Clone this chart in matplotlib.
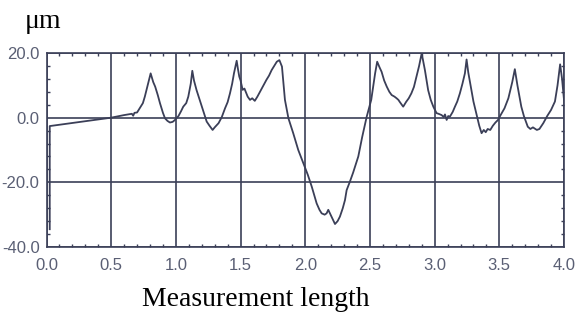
import numpy as np
import matplotlib
matplotlib.use("Agg")
import matplotlib.pyplot as plt
from matplotlib.ticker import MultipleLocator, FormatStrFormatter

pos = [0.025, 0.025, 0.5, 0.60, 0.66, 0.67, 0.68, 0.70, 0.72, 0.745,
       0.76, 0.785, 0.805, 0.825, 0.84, 0.86, 0.877, 0.90, 0.916, 0.935,
       0.954, 0.975, 0.993, 1.02, 1.04, 1.057, 1.08, 1.096, 1.115, 1.127,
       1.14, 1.16, 1.18, 1.20, 1.22, 1.238, 1.26, 1.284, 1.30, 1.33,
       1.355, 1.38, 1.40, 1.418, 1.435, 1.449, 1.47, 1.48, 1.49, 1.50,
       1.516, 1.53, 1.54, 1.555, 1.573, 1.59, 1.61, 1.63, 1.65, 1.67,
       1.70, 1.72, 1.74, 1.76, 1.78, 1.80, 1.82, 1.843, 1.87, 1.907,
       1.946, 1.985, 2.02, 2.05, 2.07, 2.088, 2.11, 2.127, 2.15, 2.165,
       2.178, 2.19, 2.204, 2.23, 2.25, 2.268, 2.29, 2.307, 2.32, 2.345,
       2.37, 2.41, 2.44, 2.475, 2.51, 2.54, 2.556, 2.575, 2.59, 2.61,
       2.63, 2.65, 2.668, 2.69, 2.706, 2.72, 2.73, 2.757, 2.78, 2.80,
       2.82, 2.84, 2.86, 2.88, 2.90, 2.925, 2.95, 2.97, 2.99, 3.015,
       3.03, 3.054, 3.07, 3.08, 3.093, 3.105, 3.118, 3.14, 3.157, 3.175,
       3.195, 3.215, 3.234, 3.247, 3.26, 3.28, 3.30, 3.325, 3.345, 3.363,
       3.38, 3.395, 3.41, 3.43, 3.45, 3.47, 3.49, 3.51, 3.54, 3.57,
       3.60, 3.62, 3.64, 3.67, 3.69, 3.72, 3.74, 3.76, 3.79, 3.81,
       3.84, 3.87, 3.90, 3.93, 3.95, 3.97, 3.985, 4.0]
height = [-34.5, -2.6, 0.0, 0.8, 1.2, 0.6, 1.5, 1.6, 2.9, 4.5,
          6.5, 10.5, 13.7, 11.0, 9.6, 7.0, 4.5, 1.5, -0.2, -1.0,
          -1.5, -1.3, -0.7, 0.5, 2.0, 3.4, 4.5, 6.5, 10.5, 14.5,
          11.5, 8.5, 6.0, 3.4, 1.0, -1.2, -2.5, -3.8, -3.0, -1.7,
          0.2, 2.9, 4.8, 7.5, 10.5, 13.7, 17.6, 15.0, 12.7, 11.5,
          8.6, 9.0, 8.0, 6.5, 5.5, 6.0, 5.2, 6.5, 8.0, 9.5,
          11.7, 13.0, 14.7, 16.0, 17.3, 17.8, 15.8, 5.5, -0.2, -4.8,
          -10.0, -14.1, -17.7, -21.3, -24.0, -26.5, -28.5, -29.6, -30.0, -29.6,
          -28.5, -29.5, -30.6, -32.9, -32.0, -30.6, -28.0, -25.5, -22.4, -19.8,
          -17.0, -12.0, -6.0, 0.3, 5.5, 13.7, 17.3, 15.5, 14.2, 11.5,
          9.6, 8.0, 7.0, 6.5, 6.0, 5.5, 4.9, 3.4, 4.9, 6.0,
          7.5, 9.5, 12.7, 16.0, 19.9, 14.7, 8.5, 5.5, 3.4, 1.4,
          1.2, 0.8, 0.2, 1.0, -0.7, 0.5, 0.3, 1.8, 3.4, 5.0,
          7.5, 10.5, 13.7, 18.0, 14.0, 9.5, 5.0, 0.8, -2.5, -4.8,
          -3.8, -4.5, -3.5, -3.8, -2.5, -1.5, -0.7, 0.8, 2.9, 6.0,
          11.0, 15.0, 10.0, 3.4, 0.5, -2.8, -3.5, -3.0, -3.8, -3.5,
          -1.7, 0.5, 2.4, 5.0, 10.0, 16.5, 12.0, 5.5]

plt.rcParams['axes.unicode_minus'] = False
ink = '#3b3f58'
label_col = '#5a5f74'

fig = plt.figure(figsize=(5.76, 3.2), dpi=100)
ax = fig.add_axes([46.5/576, 1-247/320, (564-46.5)/576, 194/320])

ax.plot(pos, height, color=ink, lw=1.3)

ax.set_xlim(0, 4)
ax.set_ylim(-40, 20)
ax.xaxis.set_major_locator(MultipleLocator(0.5))
ax.xaxis.set_minor_locator(MultipleLocator(0.1))
ax.yaxis.set_major_locator(MultipleLocator(20))
ax.yaxis.set_minor_locator(MultipleLocator(4))
ax.xaxis.set_major_formatter(FormatStrFormatter('%.1f'))
ax.yaxis.set_major_formatter(FormatStrFormatter('%.1f'))
ax.grid(True, which='major', color=ink, lw=1.2)
for s in ax.spines.values():
    s.set_color(ink)
    s.set_linewidth(1.2)
ax.tick_params(which='major', length=0, labelsize=12, labelcolor=label_col)
ax.tick_params(axis='x', which='major', pad=8)
ax.tick_params(axis='y', which='major', pad=5)
ax.tick_params(which='minor', direction='in', length=2.5, width=1.0, color=ink,
               top=True, right=True)
for lab in ax.get_xticklabels() + ax.get_yticklabels():
    lab.set_family('Liberation Sans')

fig.text(25/576, 1-28/320, 'μm', family='Liberation Serif', fontsize=20, va='baseline')
fig.text(256/576, 1-300/320, 'Measurement length', family='Liberation Serif',
         fontsize=20, ha='center', va='center')

fig.savefig('out.png', dpi=100)
